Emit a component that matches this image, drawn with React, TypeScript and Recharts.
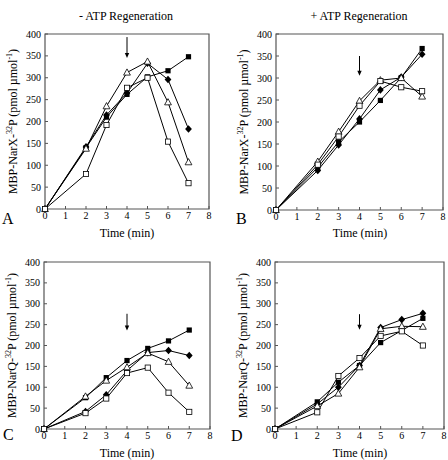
import React from "react";
import { LineChart, Line, XAxis, YAxis, ReferenceArea, ReferenceLine } from "recharts";

// Four kinetics panels: MBP-NarX / MBP-NarQ phosphorylation, with and without ATP regeneration.
const times = [0, 2, 3, 4, 5, 6, 7];
const xTicks = [0, 1, 2, 3, 4, 5, 6, 7, 8];
const yTicks = [0, 50, 100, 150, 200, 250, 300, 350, 400];

// A: NarX, - ATP regeneration
const aFilledSquare = [0, 140, 210, 262, 302, 316, 348];
const aFilledDiamond = [0, 142, 215, 265, 333, 296, 183];
const aOpenTriangle = [0, 138, 235, 312, 337, 244, 107];
const aOpenSquare = [0, 80, 192, 277, 300, 154, 59];
const aArrow = [393, 345];

// B: NarX, + ATP regeneration
const bFilledSquare = [0, 97, 155, 200, 249, 301, 367];
const bFilledDiamond = [0, 90, 148, 207, 273, 302, 354];
const bOpenTriangle = [0, 110, 178, 248, 295, 300, 258];
const bOpenSquare = [0, 103, 167, 237, 293, 279, 270];
const bArrow = [350, 305];

// C: NarQ, - ATP regeneration
const cFilledSquare = [0, 75, 123, 164, 193, 211, 237];
const cFilledDiamond = [0, 42, 82, 140, 183, 188, 176];
const cOpenTriangle = [0, 78, 116, 148, 182, 161, 104];
const cOpenSquare = [0, 38, 73, 134, 147, 87, 41];
const cArrow = [276, 236];

// D: NarQ, + ATP regeneration
const dFilledSquare = [0, 65, 112, 152, 207, 236, 265];
const dFilledDiamond = [0, 60, 100, 152, 243, 262, 277];
const dOpenTriangle = [0, 55, 85, 148, 240, 246, 245];
const dOpenSquare = [0, 40, 127, 170, 223, 234, 200];
const dArrow = [275, 238];

const FONT = '"Liberation Serif", "Times New Roman", serif';
const FRAME = "#555";

const rows = (fs: number[], fd: number[], ot: number[], os: number[]) =>
  times.map((t, i) => ({ t, fs: fs[i], fd: fd[i], ot: ot[i], os: os[i] }));

type Kind = "fs" | "fd" | "ot" | "os";

function Marker({ cx, cy, kind }: { cx: number; cy: number; kind: Kind }) {
  if (cx == null || cy == null) return null;
  if (kind === "fs") return <rect x={cx - 2.6} y={cy - 2.6} width={5.2} height={5.2} fill="#000" />;
  if (kind === "fd")
    return <path d={`M${cx},${cy - 3.8}L${cx + 3.4},${cy}L${cx},${cy + 3.8}L${cx - 3.4},${cy}Z`} fill="#000" />;
  if (kind === "ot")
    return (
      <path
        d={`M${cx},${cy - 3.6}L${cx + 3.4},${cy + 2.6}L${cx - 3.4},${cy + 2.6}Z`}
        fill="#fff"
        stroke="#000"
        strokeWidth={0.8}
      />
    );
  return <rect x={cx - 2.6} y={cy - 2.6} width={5.2} height={5.2} fill="#fff" stroke="#000" strokeWidth={0.8} />;
}

const dotOf = (kind: Kind) => (p: any) => <Marker key={`${kind}-${p.index}`} cx={p.cx} cy={p.cy} kind={kind} />;

function ArrowShape(p: any) {
  const top = Math.min(p.y1, p.y2);
  const bottom = Math.max(p.y1, p.y2);
  const x = p.x1;
  return (
    <g>
      <line x1={x} y1={top} x2={x} y2={bottom - 4} stroke="#000" strokeWidth={1} />
      <path d={`M${x - 2.2},${bottom - 5}L${x + 2.2},${bottom - 5}L${x},${bottom}Z`} fill="#000" />
    </g>
  );
}

const yTitle = (protein: string) => (props: any) => {
  const vb = props.viewBox || { x: 0, y: 0, width: 0, height: 0 };
  const x = vb.x + vb.width - 28;
  const y = vb.y + vb.height / 2;
  return (
    <text
      x={x}
      y={y}
      transform={`rotate(-90 ${x} ${y})`}
      textAnchor="middle"
      fontSize={12}
      fontFamily={FONT}
      fill="#000"
    >
      {`MBP-Nar${protein}-`}
      <tspan dy={-5} fontSize={8}>32</tspan>
      <tspan dy={5}>P (pmol µmol</tspan>
      <tspan dy={-5} fontSize={8}>-1</tspan>
      <tspan dy={5}>)</tspan>
    </text>
  );
};

function Panel({
  left,
  top,
  height,
  margin,
  data,
  arrow,
  protein,
}: {
  left: number;
  top: number;
  height: number;
  margin: { top: number; right: number; bottom: number; left: number };
  data: ReturnType<typeof rows>;
  arrow: number[];
  protein: string;
}) {
  const tickStyle = { fontSize: 10, fontFamily: FONT, fill: "#000" };
  return (
    <div style={{ position: "absolute", left, top }}>
      <LineChart width={224} height={height} data={data} margin={margin}>
        <XAxis
          type="number"
          dataKey="t"
          domain={[0, 8]}
          ticks={xTicks}
          interval={0}
          height={20}
          axisLine={false}
          tickSize={-3}
          tickMargin={6}
          tickLine={{ stroke: FRAME }}
          tick={tickStyle}
        />
        <YAxis
          type="number"
          domain={[0, 400]}
          ticks={yTicks}
          interval={0}
          width={35}
          axisLine={false}
          tickSize={-3}
          tickMargin={7}
          tickLine={{ stroke: FRAME }}
          tick={tickStyle}
          label={{ content: yTitle(protein) }}
        />
        <ReferenceArea x1={0} x2={8} y1={0} y2={400} fill="none" stroke={FRAME} strokeWidth={1.2} />
        <ReferenceLine
          segment={[
            { x: 4, y: arrow[0] },
            { x: 4, y: arrow[1] },
          ]}
          shape={ArrowShape}
        />
        <Line dataKey="fs" stroke="#000" strokeWidth={1} dot={dotOf("fs")} isAnimationActive={false} />
        <Line dataKey="fd" stroke="#000" strokeWidth={1} dot={dotOf("fd")} isAnimationActive={false} />
        <Line dataKey="ot" stroke="#000" strokeWidth={1} dot={dotOf("ot")} isAnimationActive={false} />
        <Line dataKey="os" stroke="#000" strokeWidth={1} dot={dotOf("os")} isAnimationActive={false} />
      </LineChart>
    </div>
  );
}

const textAt = (left: number, top: number, size: number, text: string, center = false) => (
  <div
    style={{
      position: "absolute",
      left: center ? left - 100 : left,
      width: center ? 200 : undefined,
      textAlign: center ? "center" : undefined,
      top,
      fontSize: size,
      lineHeight: `${size}px`,
      fontFamily: FONT,
      color: "#000",
      whiteSpace: "nowrap",
    }}
  >
    {text}
  </div>
);

export default function App() {
  return (
    <div style={{ position: "absolute", left: 0, top: 0, width: 448, height: 460, background: "#fff", overflow: "hidden" }}>
      {textAt(126, 10, 12, "- ATP Regeneration", true)}
      {textAt(359, 10, 12, "+ ATP Regeneration", true)}
      <Panel left={0} top={0} height={230} margin={{ top: 34, right: 15, bottom: 1, left: 10 }} data={rows(aFilledSquare, aFilledDiamond, aOpenTriangle, aOpenSquare)} arrow={aArrow} protein="X" />
      <Panel left={224} top={0} height={230} margin={{ top: 34, right: 5, bottom: 0, left: 17 }} data={rows(bFilledSquare, bFilledDiamond, bOpenTriangle, bOpenSquare)} arrow={bArrow} protein="X" />
      <Panel left={0} top={230} height={230} margin={{ top: 32, right: 14, bottom: 11, left: 9 }} data={rows(cFilledSquare, cFilledDiamond, cOpenTriangle, cOpenSquare)} arrow={cArrow} protein="Q" />
      <Panel left={224} top={230} height={230} margin={{ top: 32, right: 4, bottom: 11, left: 16 }} data={rows(dFilledSquare, dFilledDiamond, dOpenTriangle, dOpenSquare)} arrow={dArrow} protein="Q" />
      {textAt(127, 227, 12, "Time (min)", true)}
      {textAt(360, 227, 12, "Time (min)", true)}
      {textAt(127, 447, 12, "Time (min)", true)}
      {textAt(360, 447, 12, "Time (min)", true)}
      {textAt(2, 211, 16, "A")}
      {textAt(236, 211, 16, "B")}
      {textAt(3, 427, 16, "C")}
      {textAt(231, 428, 16, "D")}
    </div>
  );
}
